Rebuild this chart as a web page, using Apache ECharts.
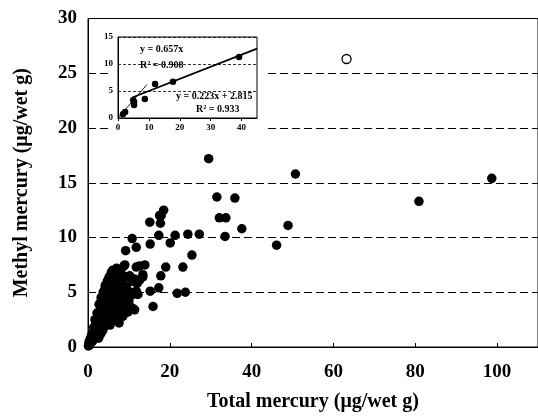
<!DOCTYPE html>
<html>
<head>
<meta charset="utf-8">
<script src="https://cdn.jsdelivr.net/npm/echarts@6/dist/echarts.min.js"></script>
<style>
  html, body { margin: 0; padding: 0; background: #fff; }
  #main { width: 538px; height: 417px; }
</style>
</head>
<body>
<div id="main"></div>
<script>
// total mercury vs methyl mercury (ug/wet g), filled dots
const samples = [
  [0.1, 0.1], [0.2, 0.3], [0.4, 0.2], [0.3, 0.5], [0.5, 0.6], [0.7, 0.4], [0.6, 0.8], [0.8, 0.9],
  [1.0, 0.5], [0.9, 1.1], [1.1, 1.2], [1.3, 0.8], [1.2, 0.6], [1.5, 1.5], [1.6, 0.9], [1.4, 1.8],
  [1.8, 1.3], [1.9, 1.9], [1.7, 2.5], [2.0, 2.4], [2.1, 1.0], [1.9, 1.6], [2.3, 1.6], [2.2, 3.1],
  [2.4, 2.0], [2.5, 2.8], [2.6, 0.8], [2.7, 3.9], [2.8, 1.9], [2.9, 2.6], [3.0, 3.3], [3.1, 1.2],
  [3.2, 4.5], [3.3, 2.4], [3.4, 3.0], [3.5, 3.8], [3.6, 1.5], [3.7, 5.0], [3.8, 2.9], [3.9, 3.6],
  [4.0, 4.3], [4.1, 1.9], [4.2, 5.6], [4.3, 3.4], [4.4, 4.0], [4.5, 4.9], [4.6, 2.3], [4.7, 6.0],
  [4.8, 3.9], [4.9, 4.6], [5.0, 5.3], [5.1, 2.7], [5.2, 6.4], [5.3, 4.4], [5.4, 5.0], [5.5, 5.8],
  [5.6, 3.0], [5.8, 4.9], [5.9, 5.7], [6.0, 6.3], [6.1, 3.4], [6.3, 5.3], [6.4, 4.4], [6.5, 6.0],
  [6.6, 3.8], [6.8, 4.6], [6.9, 6.4], [7.0, 5.6], [7.1, 4.9], [7.2, 2.9], [7.4, 4.2], [7.6, 5.2],
  [7.8, 3.5], [7.9, 5.5], [8.0, 4.5], [8.2, 6.0], [8.4, 3.2], [8.6, 5.1], [8.6, 6.5], [8.8, 4.0],
  [9.0, 5.6], [9.3, 3.8], [9.4, 5.2], [9.6, 4.6], [10.0, 4.2], [10.3, 5.0], [10.6, 3.6], [11.0, 4.8],
  [6.4, 6.2], [7.8, 6.4], [7.4, 6.1], [11.4, 6.2], [11.0, 6.0], [9.4, 4.8], [12.2, 4.8], [11.0, 3.5],
  [7.6, 2.2], [8.8, 7.4], [9.0, 7.5], [11.8, 7.3], [12.6, 7.4], [13.9, 7.5], [13.4, 6.4], [13.4, 6.6],
  [9.7, 6.4], [9.4, 5.5], [11.4, 5.0], [8.2, 4.6], [9.0, 3.1], [11.4, 3.4], [9.2, 8.8], [11.8, 9.1],
  [10.8, 9.9], [15.2, 9.4], [20.1, 9.5], [15.1, 11.4], [17.5, 12.0], [17.9, 12.0], [17.7, 11.3], [18.5, 12.5],
  [17.3, 10.2], [21.3, 10.2], [24.4, 10.3], [27.2, 10.3], [25.4, 8.4], [19.0, 7.3], [23.2, 7.3], [17.8, 6.5],
  [11.8, 5.1], [15.2, 5.1], [17.3, 5.4], [21.8, 4.9], [23.8, 5.0], [15.9, 3.7], [29.5, 17.2], [31.5, 13.7],
  [35.9, 13.6], [32.1, 11.8], [33.7, 11.8], [37.6, 10.8], [33.5, 10.1], [46.1, 9.3], [48.9, 11.1], [50.7, 15.8],
  [80.9, 13.3], [98.7, 15.4],
  [3.0, 4.0], [4.0, 5.2], [5.0, 6.2], [6.0, 7.0], [7.0, 7.2], [8.0, 7.0], [5.7, 6.8], [6.7, 5.1],
  [7.5, 3.2], [8.5, 2.8], [6.2, 2.4], [5.4, 2.0], [9.8, 3.2], [10.2, 6.5], [12.0, 5.8], [12.6, 6.1]
];
const outlier = [[63.2, 26.3]];

const xTicks = [0, 20, 40, 60, 80, 100];
const yTicks = [0, 5, 10, 15, 20, 25, 30];

// inset: subset with two fitted lines
const insetPoints = [
  [1.6, 0.7], [2.3, 1.1], [4.9, 3.3], [5.2, 3.0], [5.2, 2.4], [8.7, 3.5], [12.0, 6.3], [17.8, 6.7], [39.2, 11.3]
];
const steepFit = [[0, 0], [9.4, 6.2]];
const flatFit = [[4.6, 3.8], [45, 12.85]];
const fitLabels = ['y = 0.657x', 'R² = 0.908', 'y = 0.223x + 2.815', 'R² = 0.933'];

const font = 'Liberation Serif, Times New Roman, serif';

const chart = echarts.init(document.getElementById('main'));

chart.setOption({
  backgroundColor: '#fff',
  animation: false,
  grid: [
    { left: 88, right: -3, top: 18.5, bottom: 70, show: true, borderColor: '#000', borderWidth: 1 },
    { left: 118, right: 281, top: 37, bottom: 299, show: true, borderColor: '#000', borderWidth: 1, z: 10 }
  ],
  xAxis: [
    {
      gridIndex: 0, type: 'value', min: 0, max: 110, interval: 20,
      name: 'Total mercury (μg/wet g)', nameLocation: 'middle', nameGap: 45,
      nameTextStyle: { fontFamily: font, fontWeight: 'bold', fontSize: 20, color: '#000' },
      axisLine: { lineStyle: { color: '#000', width: 1 } },
      axisTick: { inside: true, length: 4, lineStyle: { color: '#000' } },
      axisLabel: {
        fontFamily: font, fontWeight: 'bold', fontSize: 19, color: '#000', margin: 16,
        showMaxLabel: false,
        formatter: v => xTicks.includes(v) ? String(v) : ''
      },
      splitLine: { show: false }
    },
    {
      gridIndex: 1, type: 'value', min: 0, max: 45, interval: 10, z: 10,
      axisLine: { lineStyle: { color: '#000', width: 1 } },
      axisTick: { length: 3, lineStyle: { color: '#000' } },
      axisLabel: {
        fontFamily: font, fontWeight: 'bold', fontSize: 9, color: '#000', margin: 5,
        showMaxLabel: false
      },
      splitLine: { show: false }
    }
  ],
  yAxis: [
    {
      gridIndex: 0, type: 'value', min: 0, max: 30, interval: 5,
      name: 'Methyl mercury (μg/wet g)', nameLocation: 'middle', nameGap: 56,
      nameTextStyle: { fontFamily: font, fontWeight: 'bold', fontSize: 20, color: '#000' },
      axisLine: { show: true, lineStyle: { color: '#000', width: 1 } },
      axisTick: { show: true, inside: true, length: 4, lineStyle: { color: '#000' } },
      axisLabel: {
        fontFamily: font, fontWeight: 'bold', fontSize: 19, color: '#000', margin: 11,
        formatter: v => yTicks.includes(v) ? String(v) : ''
      },
      splitLine: { show: true, lineStyle: { color: '#000', width: 1.2, type: [8, 4] } }
    },
    {
      gridIndex: 1, type: 'value', min: 0, max: 15, interval: 5, z: 10,
      axisLine: { show: true, lineStyle: { color: '#000', width: 1 } },
      axisTick: { show: false },
      axisLabel: { fontFamily: font, fontWeight: 'bold', fontSize: 9, color: '#000', margin: 5 },
      splitLine: { show: true, lineStyle: { color: '#000', width: 0.8, type: [3, 2] } }
    }
  ],
  graphic: {
    elements: [
      { type: 'rect', z: 5, shape: { x: 111, y: 30, width: 153, height: 107 }, style: { fill: '#fff' } },
      { type: 'text', z: 12, left: 140, top: 44, style: { text: fitLabels[0], font: 'bold 10px ' + font, fill: '#000' } },
      { type: 'text', z: 12, left: 140, top: 60, style: { text: fitLabels[1], font: 'bold 10px ' + font, fill: '#000' } },
      { type: 'text', z: 12, left: 176, top: 91, style: { text: fitLabels[2], font: 'bold 10px ' + font, fill: '#000' } },
      { type: 'text', z: 12, left: 196, top: 104, style: { text: fitLabels[3], font: 'bold 10px ' + font, fill: '#000' } }
    ]
  },
  series: [
    {
      type: 'scatter', xAxisIndex: 0, yAxisIndex: 0, z: 2,
      symbol: 'circle', symbolSize: 9.5,
      itemStyle: { color: '#000', opacity: 1 },
      data: samples
    },
    {
      type: 'scatter', xAxisIndex: 0, yAxisIndex: 0, z: 2,
      symbol: 'circle', symbolSize: 9,
      itemStyle: { color: '#fff', borderColor: '#000', borderWidth: 1.3, opacity: 1 },
      data: outlier
    },
    {
      type: 'line', xAxisIndex: 1, yAxisIndex: 1, z: 11,
      symbol: 'none', lineStyle: { color: '#000', width: 0.9 },
      data: steepFit
    },
    {
      type: 'line', xAxisIndex: 1, yAxisIndex: 1, z: 11,
      symbol: 'none', lineStyle: { color: '#000', width: 1.8 },
      data: flatFit
    },
    {
      type: 'scatter', xAxisIndex: 1, yAxisIndex: 1, z: 12,
      symbol: 'circle', symbolSize: 6.5,
      itemStyle: { color: '#000', opacity: 1 },
      data: insetPoints
    }
  ]
});
</script>
</body>
</html>
